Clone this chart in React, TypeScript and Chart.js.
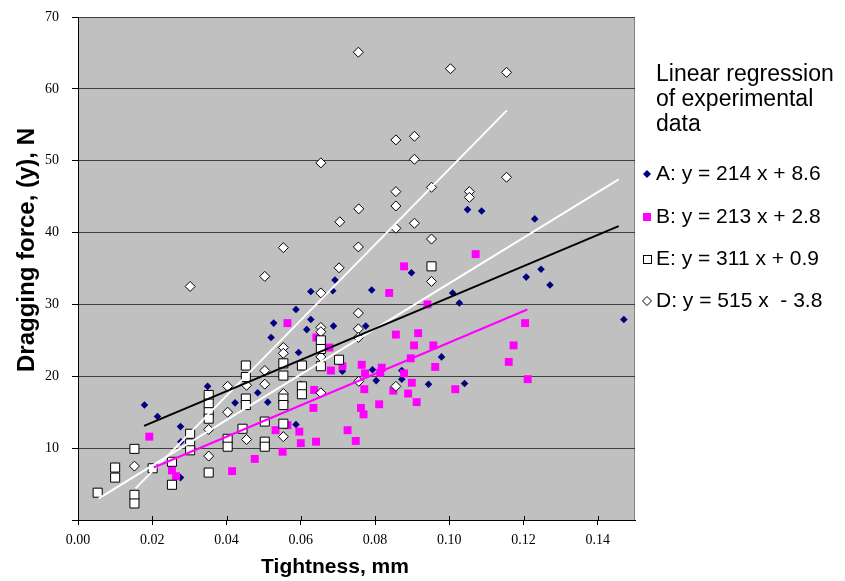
import React, { useEffect, useRef } from 'react';
import { Chart, registerables } from 'chart.js';

Chart.register(...registerables);

// ---- Series A (navy diamonds) ----
const A_X = [0.0179, 0.0214, 0.0276, 0.0277, 0.0276, 0.0349, 0.0423, 0.0484, 0.0511, 0.0520, 0.0527, 0.0587, 0.0587, 0.0594, 0.0600, 0.0616, 0.0627, 0.0627, 0.0686, 0.0688, 0.0692, 0.0712, 0.0775, 0.0791, 0.0793, 0.0803, 0.0872, 0.0872, 0.0898, 0.0944, 0.0979, 0.1009, 0.1027, 0.1041, 0.1049, 0.1087, 0.1207, 0.1230, 0.1247, 0.1271, 0.1470];
const A_Y = [16.0, 14.4, 13.0, 10.9, 5.9, 18.6, 16.3, 17.7, 16.4, 25.4, 27.4, 29.3, 13.3, 23.3, 18.9, 26.5, 27.9, 31.8, 31.9, 27.0, 33.4, 20.7, 27.0, 32.0, 20.9, 19.4, 20.8, 19.6, 34.4, 18.9, 22.7, 31.6, 30.2, 19.0, 43.2, 43.0, 33.8, 41.9, 34.9, 32.7, 27.9];

// ---- Series B (magenta squares) ----
const B_X = [0.0192, 0.0253, 0.0264, 0.0415, 0.0476, 0.0532, 0.0551, 0.0564, 0.0564, 0.0596, 0.0600, 0.0634, 0.0636, 0.0641, 0.0642, 0.0677, 0.0681, 0.0712, 0.0726, 0.0748, 0.0762, 0.0769, 0.0771, 0.0764, 0.0773, 0.0811, 0.0818, 0.0814, 0.0838, 0.0849, 0.0856, 0.0878, 0.0878, 0.0889, 0.0896, 0.0899, 0.0905, 0.0912, 0.0916, 0.0941, 0.0957, 0.0962, 0.1016, 0.1071, 0.1160, 0.1173, 0.1204, 0.1211];
const B_Y = [11.6, 6.9, 6.1, 6.8, 8.5, 12.5, 9.5, 13.2, 27.4, 12.3, 10.7, 15.6, 18.1, 10.9, 25.4, 24.0, 20.8, 21.4, 12.5, 11.0, 15.6, 14.7, 18.2, 21.6, 20.4, 16.1, 21.2, 20.5, 31.6, 18.0, 25.8, 35.3, 20.4, 17.6, 22.5, 19.1, 24.3, 16.4, 26.0, 30.0, 24.3, 21.3, 18.2, 37.0, 22.0, 24.3, 27.4, 19.6];

// ---- Series E (white squares) ----
const E_X = [0.0053, 0.0100, 0.0100, 0.0152, 0.0152, 0.0152, 0.0201, 0.0253, 0.0253, 0.0302, 0.0302, 0.0302, 0.0352, 0.0352, 0.0352, 0.0352, 0.0352, 0.0403, 0.0403, 0.0443, 0.0452, 0.0452, 0.0452, 0.0452, 0.0503, 0.0503, 0.0503, 0.0553, 0.0553, 0.0553, 0.0553, 0.0553, 0.0603, 0.0603, 0.0603, 0.0654, 0.0654, 0.0654, 0.0703, 0.0952];
const E_Y = [3.8, 7.3, 5.9, 9.9, 3.5, 2.3, 7.2, 8.1, 4.9, 12.0, 10.65, 9.7, 17.4, 16.2, 15.0, 14.1, 6.6, 11.3, 10.2, 12.7, 21.5, 19.9, 16.9, 16.0, 13.7, 10.9, 10.2, 21.8, 20.1, 16.9, 16.0, 13.4, 21.5, 18.6, 17.5, 25.0, 23.8, 21.4, 22.3, 35.3];

// ---- Series D (white diamonds) ----
const D_X = [0.0152, 0.0302, 0.0352, 0.0352, 0.0403, 0.0403, 0.0454, 0.0454, 0.0503, 0.0503, 0.0503, 0.0553, 0.0553, 0.0553, 0.0553, 0.0553, 0.0654, 0.0654, 0.0654, 0.0654, 0.0654, 0.0654, 0.0705, 0.0703, 0.0755, 0.0756, 0.0755, 0.0755, 0.0755, 0.0755, 0.0756, 0.0856, 0.0856, 0.0856, 0.0856, 0.0856, 0.0906, 0.0906, 0.0906, 0.0952, 0.0952, 0.0952, 0.1003, 0.1054, 0.1054, 0.1154, 0.1154];
const D_Y = [7.5, 32.5, 12.6, 8.9, 18.6, 15.0, 18.75, 11.2, 33.9, 20.8, 18.9, 37.9, 24.0, 23.2, 17.6, 11.6, 49.7, 31.6, 26.8, 26.2, 22.7, 17.7, 41.5, 35.1, 65.1, 43.3, 38.0, 28.8, 26.6, 25.4, 19.3, 52.9, 45.7, 43.7, 40.6, 18.6, 53.4, 50.2, 41.3, 46.3, 39.1, 33.2, 62.8, 45.7, 44.9, 62.3, 47.7];

// ---- Regression lines (end points) ----
const LINE_A_X = [0.0178, 0.1456];
const LINE_A_Y = [13.1, 40.9];
const LINE_B_X = [0.0204, 0.1210];
const LINE_B_Y = [7.3, 29.3];
const LINE_E_X = [0.0056, 0.1456];
const LINE_E_Y = [3.0, 47.4];
const LINE_D_X = [0.0155, 0.1155];
const LINE_D_Y = [4.4, 57.0];

// ---- Axis ticks and texts ----
const X_TICKS = [0, 0.02, 0.04, 0.06, 0.08, 0.1, 0.12, 0.14];
const Y_TICKS = [0, 10, 20, 30, 40, 50, 60, 70];
const X_TITLE = 'Tightness, mm';
const Y_TITLE = 'Dragging force, (y), N';
const LEGEND_TITLE = ['Linear regression', 'of experimental', 'data'];
const LEGEND_LABELS = ['A: y = 214 x + 8.6', 'B: y = 213 x + 2.8', 'E: y = 311 x + 0.9', 'D: y = 515 x  - 3.8'];

const pts = (xs: number[], ys: number[]) => xs.map((x, i) => ({ x, y: ys[i] }));

const SANS = '"Liberation Sans", Arial, sans-serif';
const SERIF = '"Liberation Serif", "Times New Roman", serif';

const plotBg = {
  id: 'plotBg',
  beforeDraw(chart: any) {
    const { ctx, chartArea: a } = chart;
    ctx.save();
    ctx.fillStyle = '#C0C0C0';
    ctx.fillRect(a.left, a.top, a.right - a.left, a.bottom - a.top);
    ctx.strokeStyle = '#808080';
    ctx.lineWidth = 1;
    ctx.strokeRect(a.left + 0.5, a.top + 0.5, a.right - a.left - 1, a.bottom - a.top);
    ctx.restore();
  },
};

function marker(ctx: CanvasRenderingContext2D, kind: string, x: number, y: number) {
  ctx.save();
  ctx.lineWidth = 1;
  if (kind === 'A') {
    ctx.fillStyle = '#000080';
    ctx.beginPath();
    ctx.moveTo(x - 4, y); ctx.lineTo(x, y - 4); ctx.lineTo(x + 4, y); ctx.lineTo(x, y + 4); ctx.closePath();
    ctx.fill();
  } else if (kind === 'B') {
    ctx.fillStyle = '#FF00FF';
    ctx.fillRect(x - 4, y - 4, 8, 8);
  } else if (kind === 'E') {
    ctx.fillStyle = '#FFFFFF';
    ctx.strokeStyle = '#000000';
    ctx.fillRect(x - 4, y - 4, 8, 8);
    ctx.strokeRect(x - 3.5, y - 3.5, 8, 8);
  } else {
    ctx.fillStyle = '#FFFFFF';
    ctx.strokeStyle = '#000000';
    ctx.beginPath();
    ctx.moveTo(x - 4.5, y); ctx.lineTo(x, y - 4.5); ctx.lineTo(x + 4.5, y); ctx.lineTo(x, y + 4.5); ctx.closePath();
    ctx.fill(); ctx.stroke();
  }
  ctx.restore();
}

const texts = {
  id: 'texts',
  afterDraw(chart: any) {
    const { ctx, chartArea: a, scales } = chart;
    ctx.save();
    // inward halves of the x tick marks (cross ticks)
    ctx.strokeStyle = '#000';
    ctx.lineWidth = 1;
    scales.x.ticks.forEach((t: any) => {
      const px = Math.round(scales.x.getPixelForValue(t.value)) + 0.5;
      ctx.beginPath();
      ctx.moveTo(px, a.bottom - 4);
      ctx.lineTo(px, a.bottom);
      ctx.stroke();
    });
    ctx.fillStyle = '#000';
    ctx.textAlign = 'center';
    ctx.textBaseline = 'middle';
    ctx.font = 'bold 21px ' + SANS;
    ctx.fillText(X_TITLE, 335, 567);
    ctx.save();
    ctx.translate(27, 250);
    ctx.rotate(-Math.PI / 2);
    ctx.font = 'bold 24px ' + SANS;
    ctx.fillText(Y_TITLE, 0, 0);
    ctx.restore();
    // legend
    ctx.textAlign = 'left';
    ctx.font = '23px ' + SANS;
    const titleYs = [75, 100, 125];
    LEGEND_TITLE.forEach((s, i) => ctx.fillText(s, 656, titleYs[i]));
    ctx.font = '21px ' + SANS;
    const rowYs = [174, 217, 259, 301];
    const kinds = ['A', 'B', 'E', 'D'];
    LEGEND_LABELS.forEach((s, i) => {
      marker(ctx, kinds[i], 647, rowYs[i]);
      ctx.fillStyle = '#000';
      ctx.fillText(s, 656, rowYs[i]);
    });
    ctx.restore();
  },
};

export default function App() {
  const ref = useRef<HTMLCanvasElement | null>(null);
  useEffect(() => {
    if (!ref.current) return;
    const lineDs = (xs: number[], ys: number[], color: string) => ({
      data: pts(xs, ys),
      showLine: true,
      borderColor: color,
      backgroundColor: color,
      borderWidth: 2,
      pointRadius: 0,
      order: 0,
    });
    const chart = new Chart(ref.current, {
      type: 'scatter',
      data: {
        datasets: [
          lineDs(LINE_A_X, LINE_A_Y, '#000000'),
          lineDs(LINE_B_X, LINE_B_Y, '#FF00FF'),
          lineDs(LINE_E_X, LINE_E_Y, '#FFFFFF'),
          lineDs(LINE_D_X, LINE_D_Y, '#FFFFFF'),
          {
            label: 'E', data: pts(E_X, E_Y), pointStyle: 'rect', pointRadius: 6.4,
            backgroundColor: '#FFFFFF', borderColor: '#000000', borderWidth: 1, order: 1,
          },
          {
            label: 'D', data: pts(D_X, D_Y), pointStyle: 'rectRot', pointRadius: 5,
            backgroundColor: '#FFFFFF', borderColor: '#000000', borderWidth: 1, order: 2,
          },
          {
            label: 'B', data: pts(B_X, B_Y), pointStyle: 'rect', pointRadius: 5.6,
            backgroundColor: '#FF00FF', borderColor: '#FF00FF', borderWidth: 0, order: 3,
          },
          {
            label: 'A', data: pts(A_X, A_Y), pointStyle: 'rectRot', pointRadius: 3.8,
            backgroundColor: '#000080', borderColor: '#000080', borderWidth: 0, order: 4,
          },
        ] as any,
      },
      options: {
        responsive: false,
        animation: false,
        devicePixelRatio: 1,
        layout: { padding: { left: 0, top: 17, right: 210, bottom: 0 } },
        plugins: { legend: { display: false }, tooltip: { enabled: false } },
        scales: {
          x: {
            type: 'linear',
            min: 0,
            max: 0.15,
            afterFit: (s: any) => { s.height = 61; s.paddingLeft = 0; s.paddingRight = 0; },
            afterBuildTicks: (s: any) => { s.ticks = X_TICKS.map((v) => ({ value: v })); },
            ticks: {
              autoSkip: false,
              maxRotation: 0,
              padding: 7,
              color: '#000',
              font: { family: SERIF, size: 14 },
              callback: (v: any) => Number(v).toFixed(2),
            },
            grid: { drawOnChartArea: false, drawTicks: true, tickLength: 5, color: '#000' },
            border: { color: '#000', width: 1 },
          },
          y: {
            type: 'linear',
            min: 0,
            max: 70,
            afterFit: (s: any) => { s.width = 78; s.paddingTop = 0; s.paddingBottom = 0; },
            afterBuildTicks: (s: any) => { s.ticks = Y_TICKS.map((v) => ({ value: v })); },
            ticks: {
              padding: 13,
              color: '#000',
              font: { family: SERIF, size: 14 },
              callback: (v: any) => (Number(v) === 0 ? '' : String(v)),
            },
            grid: { color: '#404040', tickColor: '#000', tickLength: 6, lineWidth: 1 },
            border: { color: '#000', width: 1 },
          },
        },
      },
      plugins: [plotBg, texts],
    } as any);
    return () => chart.destroy();
  }, []);
  return (
    <div style={{ position: 'absolute', left: 0, top: 0, width: 845, height: 581, background: '#fff' }}>
      <canvas ref={ref} width={845} height={581} style={{ display: 'block' }} />
    </div>
  );
}
